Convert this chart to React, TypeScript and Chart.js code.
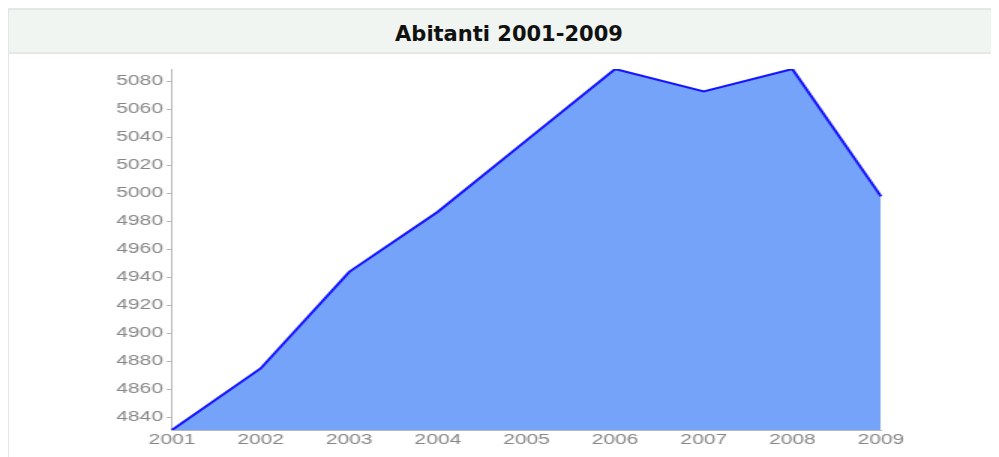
import React, { useEffect, useRef } from "react";
import { Chart, registerables } from "chart.js";

Chart.register(...registerables);

const TITLE = "Abitanti 2001-2009";
const YEARS = ["2001", "2002", "2003", "2004", "2005", "2006", "2007", "2008", "2009"];
const ABITANTI = [4831, 4875, 4944, 4987, 5038, 5089, 5073, 5089, 4998];
const Y_TICKS = [4840, 4860, 4880, 4900, 4920, 4940, 4960, 4980, 5000, 5020, 5040, 5060, 5080];
const Y_MIN = 4831;
const Y_MAX = 5089;

export default function App() {
  const ref = useRef<HTMLCanvasElement | null>(null);

  useEffect(() => {
    document.documentElement.style.overflow = "hidden";
    document.body.style.overflow = "hidden";
    if (!ref.current) return;
    const tickFont = { family: "'Liberation Sans', Arial, sans-serif", size: 14 };
    const chart = new Chart(ref.current, {
      type: "line",
      data: {
        labels: YEARS,
        datasets: [
          {
            data: ABITANTI,
            borderColor: "#1414ff",
            backgroundColor: "#76a3fa",
            borderWidth: 2,
            fill: "start",
            tension: 0,
            pointRadius: 0,
            pointHoverRadius: 0,
          },
        ],
      },
      options: {
        animation: false,
        responsive: false,
        devicePixelRatio: 1,
        layout: { padding: { top: 15, right: 78.67, bottom: 0, left: 0 } },
        plugins: { legend: { display: false }, tooltip: { enabled: false }, title: { display: false } },
        scales: {
          x: {
            type: "category",
            offset: false,
            grid: { display: false, drawTicks: false },
            border: { display: true, color: "#b8b8b8", width: 1 },
            ticks: { color: "#878787", font: tickFont, padding: 1.5, maxRotation: 0, autoSkip: false },
            afterFit: (scale: any) => {
              scale.height = 27;
            },
          },
          y: {
            type: "linear",
            min: Y_MIN,
            max: Y_MAX,
            grid: { drawOnChartArea: false, drawTicks: true, tickLength: 3.5, color: "#b8b8b8" },
            border: { display: true, color: "#b8b8b8", width: 1 },
            ticks: {
              color: "#878787",
              font: tickFont,
              padding: 2.5,
              callback: (v: any) => String(v),
            },
            afterBuildTicks: (scale: any) => {
              scale.ticks = Y_TICKS.map((v) => ({ value: v }));
            },
            afterFit: (scale: any) => {
              scale.width = 108.67;
            },
          },
        },
      },
    });
    return () => chart.destroy();
  }, []);

  return (
    <div style={{ width: 1010, boxSizing: "border-box", borderLeft: "1px solid #e3e6e4" }}>
      <div
        style={{
          height: 46,
          boxSizing: "border-box",
          borderTop: "2px solid #e4e7e5",
          borderBottom: "2px solid #e4e7e5",
          background: "#f0f5f1",
          textAlign: "center",
          paddingTop: 12,
          paddingRight: 9,
          fontFamily: "'DejaVu Sans', Verdana, sans-serif",
          fontWeight: "bold",
          fontSize: 21,
          lineHeight: "normal",
          color: "#111",
        }}
      >
        {TITLE}
      </div>
      <canvas ref={ref} width={660} height={403} style={{ display: "block", width: 990, height: 403 }} />
    </div>
  );
}
